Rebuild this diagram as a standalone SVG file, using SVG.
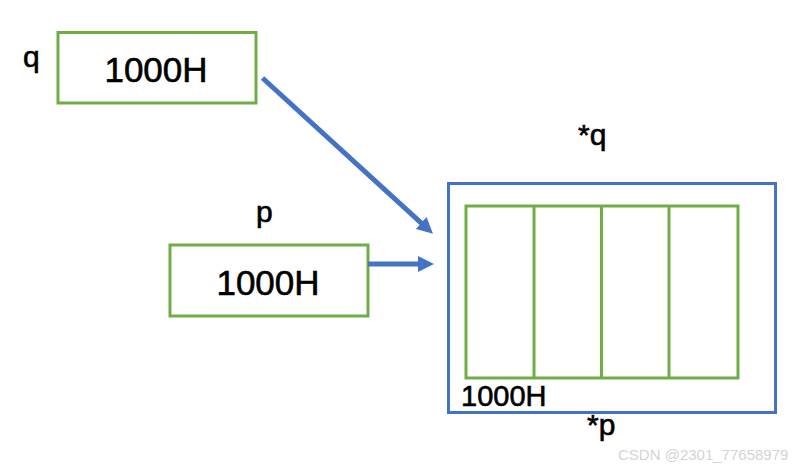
<svg xmlns="http://www.w3.org/2000/svg" width="792" height="468" viewBox="0 0 792 468">
<defs>
<style>
.g{fill:#fff;stroke:#70AD47;stroke-width:3}
.gl{fill:none;stroke:#70AD47;stroke-width:3}
.b{fill:#fff;stroke:#4472C4;stroke-width:3}
.t{font-family:"Liberation Sans",Arial,sans-serif;fill:#000;stroke:#000;stroke-width:0.6}
.big{font-size:35px}
.lbl{font-size:30px}
.con{stroke:#4472C4;stroke-width:5;fill:none}
</style>
<marker id="ah" markerUnits="userSpaceOnUse" markerWidth="16" markerHeight="16" refX="1" refY="8" orient="auto">
<path d="M0,0 L16,8 L0,16 z" fill="#4472C4"/>
</marker>
</defs>
<rect width="792" height="468" fill="#fff"/>
<g id="node-q">
<rect class="g" x="58" y="32.5" width="198" height="70.5"/>
<text class="t big" x="156" y="81.5" text-anchor="middle">1000H</text>
<text class="t lbl" x="23" y="66.5">q</text>
</g>
<g id="node-p">
<rect class="g" x="170" y="245" width="198" height="71"/>
<text class="t big" x="268" y="295" text-anchor="middle">1000H</text>
<text class="t lbl" x="256" y="222">p</text>
</g>
<g id="node-mem">
<rect class="b" x="448.5" y="183.5" width="327" height="229"/>
<rect class="gl" x="466" y="206" width="272" height="172"/>
<line class="gl" x1="534" y1="206" x2="534" y2="378"/>
<line class="gl" x1="601.5" y1="206" x2="601.5" y2="378"/>
<line class="gl" x1="669" y1="206" x2="669" y2="378"/>
<text class="t" font-size="29" x="461" y="406">1000H</text>
<text class="t lbl" x="578" y="145">*q</text>
<text class="t lbl" x="587" y="435">*p</text>
</g>
<g id="connectors">
<line class="con" x1="262.5" y1="78" x2="421.9" y2="223.7" marker-end="url(#ah)"/>
<line class="con" x1="368" y1="264" x2="419" y2="264" marker-end="url(#ah)"/>
</g>
<text x="618" y="460" font-family="Liberation Sans,Arial,sans-serif" font-size="15" fill="#d4d4d4">CSDN @2301_77658979</text>
</svg>
